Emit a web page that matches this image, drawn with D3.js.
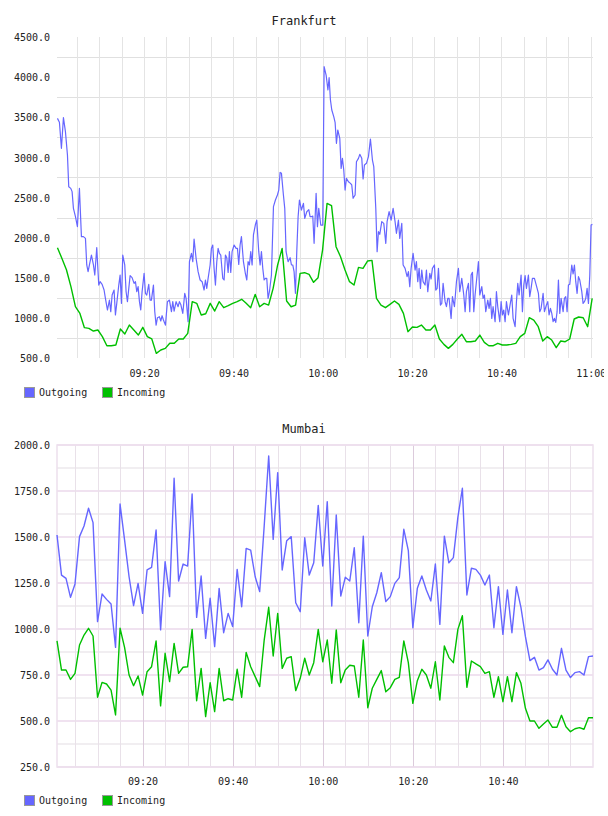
<!DOCTYPE html>
<html>
<head>
<meta charset="utf-8">
<script src="https://cdn.jsdelivr.net/npm/d3@7"></script>
<style>
  body { margin: 0; background: #fff; }
  text { font-family: "DejaVu Sans Mono", monospace; fill: #222; }
</style>
</head>
<body>
<svg></svg>
<script>
// series shared by both panels
const seriesNames = ['Outgoing', 'Incoming'];
const seriesColors = ['#6666ff', '#00c000'];

// Frankfurt outgoing: [minutes after 09:00, value]
const fraOutgoing = [
  [0.60,3486],[1.04,3437],[1.49,3113],[1.94,3495],[2.39,3320],[2.84,3030],[3.13,2635],[3.58,2614],[3.88,2573],[4.18,2365],
  [4.63,2261],[5.07,2137],[5.52,2614],[5.97,2012],[6.42,2012],[6.87,1991],[7.16,1659],[7.46,1576],[7.76,1659],[8.21,1783],
  [8.66,1659],[8.96,1534],[9.40,1875],[9.85,1409],[10.15,1451],[10.60,1418],[11.04,1347],[11.34,1243],[11.79,1098],[12.24,1222],
  [12.54,1077],[12.84,1285],[13.28,1347],[13.58,1036],[13.88,1181],[14.33,1409],[14.63,1534],[14.93,1181],[15.22,1783],[15.67,1659],
  [15.97,1326],[16.27,1202],[16.57,1368],[16.87,1526],[17.31,1501],[17.76,1430],[18.06,1451],[18.36,1326],[18.66,1389],[18.96,1202],
  [19.25,1098],[19.55,1326],[20.00,1555],[20.30,1306],[20.60,1285],[21.04,1418],[21.34,1222],[21.64,1222],[22.09,1409],[22.39,1077],
  [22.69,910],[22.99,1002],[23.43,1015],[23.73,961],[24.03,1027],[24.33,973],[24.78,910],[25.22,1202],[25.67,1222],[26.12,1077],
  [26.42,1202],[26.72,1085],[27.16,1202],[27.61,1139],[27.91,1202],[28.21,1168],[28.66,1056],[29.10,1306],[29.40,1243],[29.85,953],
  [30.15,1700],[30.60,1804],[30.90,1700],[31.19,1983],[31.64,1742],[32.09,1576],[32.54,1472],[32.99,1451],[33.43,1347],[33.73,1472],
  [34.03,1368],[34.33,1493],[34.78,1659],[35.07,1866],[35.37,1908],[35.67,1617],[35.97,1409],[36.27,1700],[36.57,1866],[36.87,1804],
  [37.16,1783],[37.61,1493],[37.91,1472],[38.21,1783],[38.51,1750],[38.81,1567],[39.10,1825],[39.40,1567],[39.70,1825],[40.15,1908],
  [40.60,1866],[40.90,1866],[41.19,1667],[41.49,1908],[41.79,2012],[42.24,1700],[42.69,1547],[42.99,1472],[43.28,1700],[43.58,1659],
  [43.88,1825],[44.18,1659],[44.48,2033],[44.93,2165],[45.22,2219],[45.67,1825],[45.97,1659],[46.27,1825],[46.57,1617],[46.87,1472],
  [47.16,1493],[47.46,1493],[47.76,1243],[48.06,1326],[48.51,1534],[48.96,2386],[49.40,2469],[49.85,2531],[50.15,2593],[50.45,2813],
  [50.75,2801],[51.19,2531],[51.49,2365],[51.79,1825],[52.24,1700],[52.69,1750],[52.99,1659],[53.28,1659],[53.58,1576],[53.88,1306],
  [54.18,1825],[54.48,2261],[54.78,2469],[55.22,2344],[55.67,2427],[55.97,2240],[56.42,2323],[56.87,2348],[57.16,2261],[57.46,2261],
  [57.76,2269],[58.06,1929],[58.51,2552],[58.81,2137],[59.10,2365],[59.55,2157],[60.00,2157],[60.30,4130],[60.75,4026],[61.15,3840],
  [61.42,3993],[61.72,3715],[62.02,3590],[62.46,3507],[62.76,3437],[63.06,3175],[63.36,3341],[63.81,3237],[64.11,2863],[64.40,2988],
  [64.70,2843],[65.00,2593],[65.30,2739],[65.75,2697],[66.20,2676],[66.49,2656],[66.79,2490],[67.24,2531],[67.54,2946],[67.99,2988],
  [68.29,3038],[68.73,2988],[69.03,2731],[69.33,2905],[69.78,2926],[70.23,3009],[70.67,3229],[71.12,2967],[71.42,2884],[71.87,2365],
  [72.17,1825],[72.46,2074],[72.76,2041],[73.21,2199],[73.66,2178],[74.11,1929],[74.40,2199],[74.85,2323],[75.30,2219],[75.75,2365],
  [76.19,2199],[76.49,2054],[76.94,2219],[77.24,1991],[77.69,2178],[77.99,1659],[78.43,1617],[78.88,1513],[79.18,1576],[79.48,1389],
  [79.78,1617],[80.22,1804],[80.67,1596],[80.97,1700],[81.27,1451],[81.57,1617],[81.87,1368],[82.16,1596],[82.46,1451],[82.91,1409],
  [83.21,1596],[83.51,1326],[83.96,1555],[84.25,1484],[84.55,1617],[85.00,1659],[85.30,1347],[85.60,1368],[85.90,1617],[86.34,1160],
  [86.64,1181],[86.94,1430],[87.39,1202],[87.69,1139],[87.99,1243],[88.28,1243],[88.73,994],[89.03,1264],[89.48,1139],[89.93,1451],
  [90.37,1617],[90.67,1326],[91.12,1493],[91.57,1285],[91.87,1077],[92.16,1326],[92.61,1430],[92.91,1077],[93.21,1534],[93.51,1567],
  [93.81,1077],[94.10,1285],[94.55,1534],[94.85,1700],[95.15,1285],[95.60,1389],[95.90,1243],[96.19,1285],[96.49,1077],[96.94,1222],
  [97.24,1118],[97.54,1243],[97.84,994],[98.13,1139],[98.58,953],[98.88,1326],[99.18,1139],[99.63,953],[99.93,1202],[100.22,1036],
  [100.52,1098],[100.82,953],[101.12,1202],[101.57,1036],[101.87,1139],[102.31,1285],[102.61,994],[103.06,890],[103.36,1202],[103.66,1430],
  [103.96,1285],[104.40,1534],[104.70,1077],[105.00,1409],[105.30,1526],[105.60,1368],[106.04,1534],[106.34,1264],[106.64,1368],[106.94,1493],
  [107.39,1493],[107.69,1430],[107.99,1368],[108.28,1306],[108.58,1077],[108.88,1118],[109.33,1306],[109.63,1077],[110.07,1160],[110.37,1202],
  [110.67,1036],[110.97,1118],[111.27,1056],[111.57,953],[111.87,994],[112.16,944],[112.46,1077],[112.76,1472],[113.06,1056],[113.36,1243],
  [113.81,1077],[114.10,1243],[114.40,1264],[114.70,1077],[115.00,1409],[115.30,1418],[115.75,1659],[116.04,1547],[116.34,1659],[116.64,1451],
  [116.94,1306],[117.24,1513],[117.54,1472],[117.99,1326],[118.28,1181],[118.58,1202],[118.88,1243],[119.18,1368],[119.48,1181],[119.78,1534],
  [120.07,2157],[120.37,2165]
];

// Frankfurt incoming: one sample about every minute from 09:00:36
const fraInStart = 0.6;
const fraInStep = 1.006;
const fraIncoming = [
  1875,1740,1600,1390,1139,1055,878,869,836,849,
  766,653,653,662,861,799,911,849,786,882,
  766,737,558,600,620,683,683,737,737,807,
  1202,1181,1036,1052,1181,1085,1202,1127,1152,1181,
  1202,1231,1181,1127,1293,1139,1181,1160,1368,1659,
  1866,1210,1139,1160,1555,1563,1542,1443,1501,1845,
  2427,2398,1887,1762,1596,1451,1409,1629,1617,1708,
  1717,1243,1160,1127,1168,1210,1168,1056,828,886,
  882,911,849,849,911,737,670,620,670,737,
  795,703,703,712,786,695,653,653,683,662,
  662,670,683,766,807,1002,973,890,712,766,
  724,629,712,703,737,986,1011,1002,890,1243
];
const fraYTicks = [500, 1000, 1500, 2000, 2500, 3000, 3500, 4000, 4500];
const fraYGrid = [750, 1250, 1750, 2250, 2750, 3250, 3750, 4250];
const fraXTicks = ['09:20', '09:40', '10:00', '10:20', '10:40', '11:00'];

// Mumbai: one sample per minute from 09:01
const mumStart = '09:01';
const mumOutgoing = [
  1511,1293,1275,1172,1245,1502,1560,1656,1578,1040,
  1190,1161,1136,900,1679,1484,1284,1127,1248,1085,
  1321,1335,1538,995,1366,1176,1819,1261,1353,1342,
  1734,1063,1288,949,1167,904,1221,980,1085,1013,
  1324,1121,1438,1429,1284,1203,1560,1940,1487,1850,
  1321,1480,1502,1143,1094,1496,1293,1360,1672,1342,
  1692,1125,1620,1179,1281,1261,1442,1034,1505,962,
  1121,1197,1306,1149,1176,1248,1279,1542,1426,1007,
  1221,1288,1212,1152,1353,1025,1505,1360,1388,1607,
  1765,1185,1330,1324,1293,1239,1293,1007,1230,971,
  1212,980,1230,1118,958,828,846,777,790,832,
  781,750,895,777,736,763,768,750,850,853
];
const mumIncoming = [
  935,777,777,726,759,913,967,1004,962,629,
  710,701,668,533,1004,900,750,692,745,641,
  768,795,935,582,868,714,922,759,792,795,
  998,610,786,524,708,551,786,610,621,614,
  781,629,873,795,741,687,940,1118,853,1085,
  786,841,850,665,732,841,750,817,998,822,
  940,705,995,708,777,803,799,629,940,572,
  678,726,774,659,681,726,737,935,817,596,
  719,781,750,678,822,614,908,846,817,998,
  1072,683,826,810,795,759,768,629,741,605,
  741,605,763,705,569,500,500,460,484,505,
  466,466,531,469,442,458,464,455,518,518
];
const mumYTicks = [250, 500, 750, 1000, 1250, 1500, 1750, 2000];
const mumYMinor = [375, 625, 875, 1125, 1375, 1625, 1875];
const mumXTicks = ['09:20', '09:40', '10:00', '10:20', '10:40'];

const parseHM = d3.timeParse('%H:%M');
const base = parseHM('09:00');
const at = m => new Date(+base + m * 60000);
const px = v => Math.round(v) + 0.5;

const svg = d3.select('svg')
  .attr('width', 608)
  .attr('height', 816);

// the original canvas cut the last x label at its right edge
svg.append('clipPath')
  .attr('id', 'canvas-clip')
  .append('rect')
  .attr('x', 0)
  .attr('y', 0)
  .attr('width', 604)
  .attr('height', 816);

// every 5 minutes between two times
const fiveMin = (from, to) => d3.timeMinute.every(5).range(from, new Date(+to + 1));

const drawPanel = function (p) {
  const g = svg.append('g');

  // title
  g.append('text')
    .attr('x', 304)
    .attr('y', p.titleY)
    .attr('text-anchor', 'middle')
    .style('font-size', '12px')
    .text(p.title);

  p.drawGrid(g);

  // lines
  const line = d3.line()
    .x(d => p.x(d[0]))
    .y(d => p.y(d[1]));

  g.selectAll('path.series')
    .data(p.series)
    .enter()
    .append('path')
    .attr('class', 'series')
    .attr('fill', 'none')
    .attr('stroke', d => d.color)
    .attr('stroke-width', d => d.width)
    .attr('stroke-linejoin', 'round')
    .attr('d', d => line(d.values));

  // y labels
  const axisY = d3.axisLeft(p.y)
    .tickValues(p.yTicks)
    .tickSize(0)
    .tickPadding(7)
    .tickFormat(d3.format('.1f'));
  const gy = g.append('g')
    .attr('transform', `translate(${p.x.range()[0]},0)`)
    .call(axisY);
  gy.select('.domain').remove();
  gy.selectAll('text')
    .attr('dy', '0.37em')
    .style('font-size', '10px')
    .style('font-family', '"DejaVu Sans Mono", monospace')
    .attr('fill', '#222');

  // x labels
  const axisX = d3.axisBottom(p.x)
    .tickValues(p.xTicks.map(parseHM))
    .tickSize(0)
    .tickPadding(p.xPad)
    .tickFormat(d3.timeFormat('%H:%M'));
  const gx = g.append('g')
    .attr('clip-path', 'url(#canvas-clip)')
    .append('g')
    .attr('transform', `translate(0,${p.y.range()[0]})`)
    .call(axisX);
  gx.select('.domain').remove();
  gx.selectAll('text')
    .style('font-size', '10px')
    .style('font-family', '"DejaVu Sans Mono", monospace')
    .attr('fill', '#222');

  // legend
  const legend = g.selectAll('g.legend')
    .data(seriesNames)
    .enter()
    .append('g')
    .attr('class', 'legend')
    .attr('transform', (d, i) => `translate(${24 + i * 78},${p.legendY})`);

  legend.append('rect')
    .attr('x', 0.5)
    .attr('y', 0.5)
    .attr('width', 10)
    .attr('height', 10)
    .attr('fill', (d, i) => seriesColors[i])
    .attr('stroke', '#999');

  legend.append('text')
    .attr('x', 15)
    .attr('y', 8.5)
    .style('font-size', '10px')
    .text(d => d);
};

// Frankfurt
const fraX = d3.scaleTime()
  .domain([at(0.5), at(120.5)])
  .range([57, 593]);
const fraY = d3.scaleLinear()
  .domain([500, 4500])
  .range([358, 37]);

drawPanel({
  title: 'Frankfurt',
  titleY: 25,
  x: fraX,
  y: fraY,
  yTicks: fraYTicks,
  xTicks: fraXTicks,
  xPad: 12,
  legendY: 387,
  series: [
    { color: seriesColors[0], width: 1.2, values: fraOutgoing.map(d => [at(d[0]), d[1]]) },
    { color: seriesColors[1], width: 1.4, values: fraIncoming.map((v, i) => [at(fraInStart + i * fraInStep), v]) }
  ],
  drawGrid: function (g) {
    g.selectAll('line.hgrid')
      .data(fraYGrid)
      .enter()
      .append('line')
      .attr('class', 'hgrid')
      .attr('x1', 57)
      .attr('x2', 593)
      .attr('y1', d => px(fraY(d)))
      .attr('y2', d => px(fraY(d)))
      .attr('stroke', '#e0e0e0');

    g.selectAll('line.vgrid')
      .data(fiveMin(parseHM('09:05'), parseHM('11:00')))
      .enter()
      .append('line')
      .attr('class', 'vgrid')
      .attr('x1', d => px(fraX(d)))
      .attr('x2', d => px(fraX(d)))
      .attr('y1', 37)
      .attr('y2', 358)
      .attr('stroke', '#e4e4e4');
  }
});

// Mumbai
const mumX = d3.scaleTime()
  .domain([parseHM(mumStart), parseHM('11:00')])
  .range([57, 593]);
const mumY = d3.scaleLinear()
  .domain([250, 2000])
  .range([767, 445]);
const mumTime = i => d3.timeMinute.offset(parseHM(mumStart), i);

drawPanel({
  title: 'Mumbai',
  titleY: 433,
  x: mumX,
  y: mumY,
  yTicks: mumYTicks,
  xTicks: mumXTicks,
  xPad: 11,
  legendY: 795,
  series: [
    { color: seriesColors[0], width: 1.4, values: mumOutgoing.map((v, i) => [mumTime(i), v]) },
    { color: seriesColors[1], width: 1.4, values: mumIncoming.map((v, i) => [mumTime(i), v]) }
  ],
  drawGrid: function (g) {
    const major = mumXTicks.map(parseHM);
    const minor = fiveMin(parseHM('09:05'), parseHM('10:55'))
      .filter(d => !major.some(m => +m === +d));

    g.selectAll('line.hminor')
      .data(mumYMinor)
      .enter()
      .append('line')
      .attr('class', 'hminor')
      .attr('x1', 57)
      .attr('x2', 593)
      .attr('y1', d => mumY(d))
      .attr('y2', d => mumY(d))
      .attr('stroke', '#f1eef1')
      .attr('stroke-width', 2);

    g.selectAll('line.hmajor')
      .data(mumYTicks)
      .enter()
      .append('line')
      .attr('class', 'hmajor')
      .attr('x1', 57)
      .attr('x2', 593)
      .attr('y1', d => mumY(d))
      .attr('y2', d => mumY(d))
      .attr('stroke', '#f0e2f0')
      .attr('stroke-width', 2);

    g.selectAll('line.vminor')
      .data(minor)
      .enter()
      .append('line')
      .attr('class', 'vminor')
      .attr('x1', d => px(mumX(d)))
      .attr('x2', d => px(mumX(d)))
      .attr('y1', 445)
      .attr('y2', 767)
      .attr('stroke', '#e9e1e9');

    g.selectAll('line.vmajor')
      .data(major)
      .enter()
      .append('line')
      .attr('class', 'vmajor')
      .attr('x1', d => px(mumX(d)))
      .attr('x2', d => px(mumX(d)))
      .attr('y1', 445)
      .attr('y2', 767)
      .attr('stroke', '#dccbdc');

    g.append('rect')
      .attr('x', 57)
      .attr('y', 445)
      .attr('width', 536)
      .attr('height', 322)
      .attr('fill', 'none')
      .attr('stroke', '#eddfed')
      .attr('stroke-width', 1.5);
  }
});
</script>
</body>
</html>
